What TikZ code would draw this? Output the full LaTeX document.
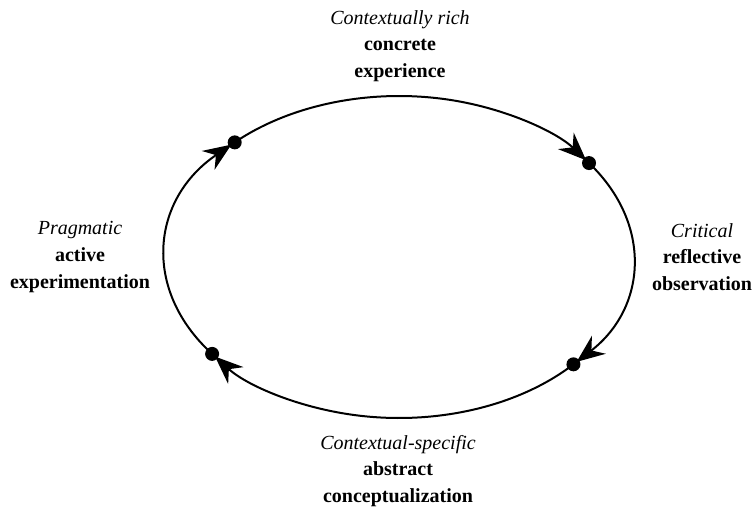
\documentclass[tikz,border=0pt]{standalone}
\usepackage{fontspec}
\setmainfont{Liberation Serif}
\usetikzlibrary{arrows.meta,backgrounds,calc}
\tikzset{every node/.append style={align=center}}

\begin{document}
\begin{tikzpicture}[x=0.75pt, y=0.75pt,
    stage/.style={font=\fontsize{15}{20}\selectfont},
    dot/.style={circle, fill=black, inner sep=0pt, minimum size=10.5pt},
    flow/.style={line width=1.5pt, -{Stealth[length=21pt, width=17pt, inset=7pt]}, shorten >=3pt}]
    \useasboundingbox (0,0) rectangle (755,512);

    % Cycle points
    \coordinate (centre) at (399,255);
    \node[dot] (dotCE) at ($(centre)+(134.6:234 and 161)$) {};
    \node[dot] (dotRO) at ($(centre)+(35.7:234 and 161)$) {};
    \node[dot] (dotAC) at ($(centre)+(-41.8:234 and 161)$) {};
    \node[dot] (dotAE) at ($(centre)+(217:234 and 161)$) {};

    % Cycle arcs
    \begin{scope}[on background layer]
        \draw[flow] (dotAE.center) arc[start angle=217, end angle=134.6, x radius=234, y radius=161];
        \draw[flow] (dotCE.center) arc[start angle=134.6, end angle=35.7, x radius=234, y radius=161];
        \draw[flow] (dotRO.center) arc[start angle=35.7, end angle=-41.8, x radius=234, y radius=161];
        \draw[flow] (dotAC.center) arc[start angle=-41.8, end angle=-143, x radius=234, y radius=161];
    \end{scope}

    % Stages
    \node[stage] (ceLabel) at (400,466) {\textit{Contextually rich}\\\textbf{concrete}\\\textbf{experience}};
    \node[stage] (roLabel) at (702,255) {\textit{Critical}\\\textbf{reflective}\\\textbf{observation}};
    \node[stage] (acLabel) at (398,41) {\textit{Contextual-specific}\\\textbf{abstract}\\\textbf{conceptualization}};
    \node[stage] (aeLabel) at (80,255) {\textit{Pragmatic}\\\textbf{active}\\\textbf{experimentation}};
\end{tikzpicture}
\end{document}
